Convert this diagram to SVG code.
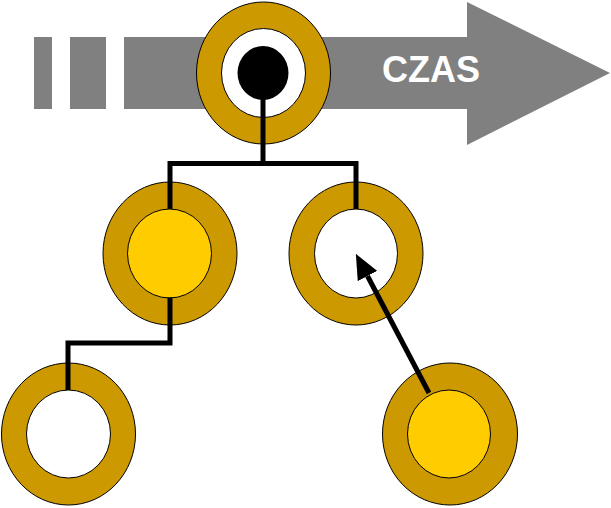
<svg xmlns="http://www.w3.org/2000/svg" width="611" height="508" viewBox="0 0 611 508">
<style>
.ring{fill:#CC9900;stroke:#000;stroke-width:1}
.hole{fill:#FFFFFF;stroke:#000;stroke-width:1}
.full{fill:#FFCC00;stroke:#000;stroke-width:1}
.conn{fill:none;stroke:#000;stroke-width:5;stroke-linecap:butt;stroke-linejoin:miter}
.label{font-family:"Liberation Sans",Arial,sans-serif;font-weight:bold;font-size:36px;fill:#FFFFFF}
</style>
<defs>
<marker id="ah" markerUnits="userSpaceOnUse" viewBox="0 0 25 22" refX="0" refY="11" markerWidth="25" markerHeight="22" orient="auto">
<path d="M0,0 L25,11 L0,22 z" fill="#000"/>
</marker>
</defs>
<g id="time-arrow">
<rect x="34" y="37" width="18" height="72" fill="#808080"/>
<rect x="70" y="37" width="36" height="72" fill="#808080"/>
<polygon points="124,37 467,37 467,2 610,73 467,145 467,109 124,109" fill="#808080"/>
<text class="label" x="382" y="82">CZAS</text>
</g>
<g id="node-root">
<ellipse class="ring" cx="263.5" cy="73" rx="67" ry="71"/>
<ellipse class="hole" cx="263.5" cy="73" rx="42" ry="44.5"/>
<ellipse cx="263" cy="73" rx="25.5" ry="27" fill="#000"/>
</g>
<g id="node-mid-left">
<ellipse class="ring" cx="170" cy="253.5" rx="67" ry="71.5"/>
<ellipse class="full" cx="169.5" cy="253.5" rx="42" ry="44.5"/>
</g>
<g id="node-mid-right">
<ellipse class="ring" cx="356" cy="253.5" rx="67" ry="71.5"/>
<ellipse class="hole" cx="356" cy="253.5" rx="41.5" ry="44.5"/>
</g>
<g id="node-bottom-left">
<ellipse class="ring" cx="68.5" cy="434" rx="67" ry="71"/>
<ellipse class="hole" cx="68.5" cy="434" rx="42" ry="44"/>
</g>
<g id="node-bottom-right">
<ellipse class="ring" cx="450" cy="434" rx="67.5" ry="71"/>
<ellipse class="full" cx="449" cy="434" rx="41.5" ry="44"/>
</g>
<g id="connectors">
<polyline class="conn" points="263,98 263,163.5"/>
<polyline class="conn" points="170,209 170,163.5 356,163.5 356,209"/>
<polyline class="conn" points="170,297.5 170,343 68,343 68,390"/>
<line class="conn" x1="429" y1="393" x2="367.5" y2="276" marker-end="url(#ah)"/>
</g>
</svg>
